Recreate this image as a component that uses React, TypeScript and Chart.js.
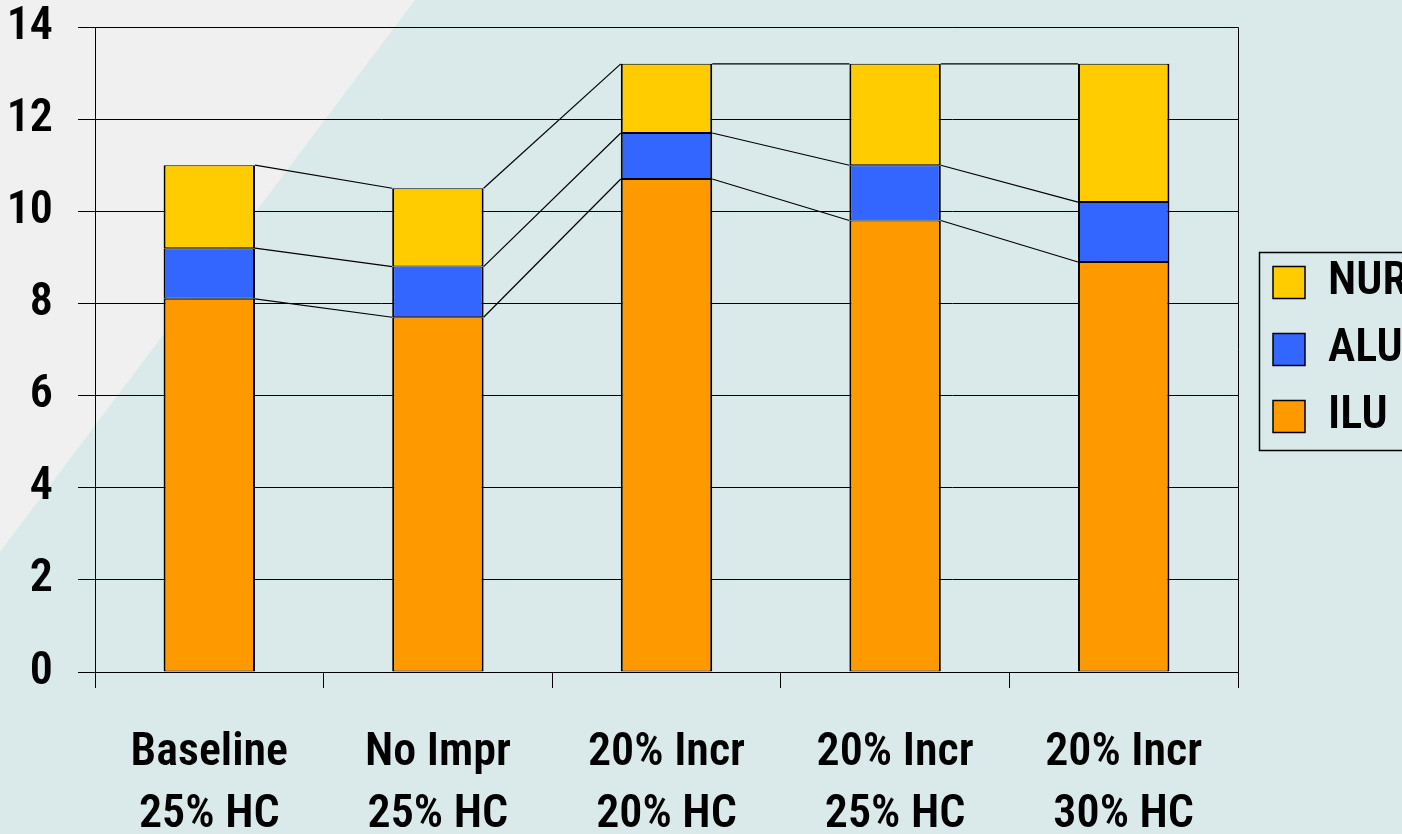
import React, { useEffect, useRef } from "react";
import { Chart, registerables } from "chart.js";

Chart.register(...registerables);

const categories: string[][] = [
  ["Baseline", "25% HC"],
  ["No Impr", "25% HC"],
  ["20% Incr", "20% HC"],
  ["20% Incr", "25% HC"],
  ["20% Incr", "30% HC"],
];
const iluValues = [8.1, 7.7, 10.7, 9.8, 8.9];
const aluValues = [1.1, 1.1, 1.0, 1.2, 1.3];
const nurValues = [1.8, 1.7, 1.5, 2.2, 3.0];
const seriesNames = ["ILU", "ALU", "NUR"];
const seriesColors = ["#ff9900", "#3366ff", "#ffcc00"];
const yTicks = { min: 0, max: 14, step: 2 };

// Candidate condensed fonts; the one closest to Arial Narrow Bold proportions is used.
const fontCandidates = [
  { stretch: "", family: '"Liberation Sans Narrow"' },
  { stretch: "condensed", family: '"Noto Sans"' },
  { stretch: "semi-condensed", family: '"Noto Sans"' },
  { stretch: "condensed", family: '"Open Sans"' },
  { stretch: "semi-condensed", family: '"Open Sans"' },
  { stretch: "condensed", family: "Roboto" },
  { stretch: "condensed", family: "Inter" },
  { stretch: "", family: '"DejaVu Sans Condensed"' },
];

function pickFont() {
  const c = document.createElement("canvas");
  const ctx = c.getContext("2d")!;
  const target = 162 / 33; // width of "Baseline" / cap height of "B" in the reference
  let best = { weight: "bold", family: '"DejaVu Sans Condensed"', size: 42, err: 1e9 };
  for (const cand of fontCandidates) {
    const weight = cand.stretch ? `600 ${cand.stretch}` : "bold";
    ctx.font = "10px serif";
    ctx.font = `${weight} 46px ${cand.family}`;
    if (ctx.font === "10px serif") continue;
    const w = ctx.measureText("Baseline").width;
    const m = ctx.measureText("B");
    const asc = m.actualBoundingBoxAscent || 33;
    const err = Math.abs(w / asc - target);
    if (err < best.err - 0.02) {
      best = { weight, family: cand.family, size: Math.round((46 * 33) / asc), err };
    }
  }
  return best;
}

const backgroundPlugin = {
  id: "bgPlugin",
  beforeDraw(chart: any) {
    const { ctx, width, height } = chart;
    ctx.save();
    ctx.fillStyle = "#dae9e9";
    ctx.fillRect(0, 0, width, height);
    ctx.fillStyle = "#f0f0f0";
    ctx.beginPath();
    ctx.moveTo(0, 0);
    ctx.lineTo(415, 0);
    ctx.lineTo(0, 552);
    ctx.closePath();
    ctx.fill();
    ctx.restore();
  },
};

const framePlugin = {
  id: "framePlugin",
  beforeDatasetsDraw(chart: any) {
    const { ctx } = chart;
    ctx.save();
    ctx.strokeStyle = "#000";
    ctx.lineWidth = 1.2;
    chart.data.datasets.forEach((_: any, d: number) => {
      const meta = chart.getDatasetMeta(d);
      for (let i = 0; i < meta.data.length - 1; i++) {
        const a = meta.data[i];
        const b = meta.data[i + 1];
        ctx.beginPath();
        ctx.moveTo(a.x + a.width / 2, a.y);
        ctx.lineTo(b.x - b.width / 2, b.y);
        ctx.stroke();
      }
    });
    ctx.restore();
  },
  afterDraw(chart: any) {
    const { ctx, chartArea } = chart;
    ctx.save();
    ctx.strokeStyle = "#000";
    ctx.lineWidth = 1;
    ctx.beginPath();
    ctx.moveTo(chartArea.left, chartArea.top + 0.5);
    ctx.lineTo(chartArea.right + 0.5, chartArea.top + 0.5);
    ctx.lineTo(chartArea.right + 0.5, chartArea.bottom);
    ctx.stroke();
    const lg = chart.legend;
    if (lg && lg.legendHitBoxes && lg.legendHitBoxes.length) {
      const hb = lg.legendHitBoxes;
      const first = hb[0];
      const last = hb[hb.length - 1];
      const left = lg.left + 7.5;
      const top = Math.round(first.top - 8) + 0.5;
      const bottom = Math.round(last.top + last.height + 10) + 0.5;
      ctx.lineWidth = 1.5;
      ctx.beginPath();
      ctx.moveTo(chart.width + 5, top);
      ctx.lineTo(left, top);
      ctx.lineTo(left, bottom);
      ctx.lineTo(chart.width + 5, bottom);
      ctx.stroke();
    }
    ctx.restore();
  },
};

export default function App() {
  const ref = useRef<HTMLCanvasElement>(null);
  useEffect(() => {
    if (!ref.current) return;
    Chart.defaults.color = "#000";
    const f = pickFont();
    const font = { family: f.family, size: f.size, weight: f.weight as any };
    const chart = new Chart(ref.current, {
      type: "bar",
      data: {
        labels: categories,
        datasets: [iluValues, aluValues, nurValues].map((vals, i) => ({
          label: seriesNames[i],
          data: vals,
          backgroundColor: seriesColors[i],
          borderColor: "#000",
          borderWidth: { left: 2, right: 2, top: 1, bottom: 1 },
          borderSkipped: false,
          barPercentage: 0.4,
          categoryPercentage: 1,
          yAxisID: "y",
        })),
      },
      options: {
        responsive: false,
        animation: false,
        maintainAspectRatio: false,
        layout: { padding: { top: 27, left: 0, right: 0, bottom: 0 } },
        plugins: {
          tooltip: { enabled: false },
          legend: {
            position: "right",
            fullSize: false,
            reverse: true,
            maxWidth: 150,
            labels: {
              boxWidth: 32,
              boxHeight: 32,
              padding: 21,
              color: "#000",
              font: { ...font },
            },
          },
        },
        scales: {
          x: {
            stacked: true,
            offset: true,
            grid: {
              display: true,
              offset: true,
              drawOnChartArea: false,
              drawTicks: true,
              tickLength: 16,
              color: "#000",
              lineWidth: 1,
            },
            border: { display: true, color: "#000", width: 1 },
            ticks: {
              maxRotation: 0,
              minRotation: 0,
              autoSkip: false,
              padding: 34,
              color: "#000",
              font: { ...font, lineHeight: 62 / f.size },
            },
            afterFit: (s: any) => {
              s.height = 162;
              s.paddingLeft = 0;
              s.paddingRight = 0;
            },
          },
          y: {
            stacked: true,
            min: yTicks.min,
            max: yTicks.max,
            grid: {
              color: "#000",
              lineWidth: 1,
              drawTicks: true,
              tickLength: 17,
            },
            border: { display: true, color: "#000", width: 1 },
            ticks: {
              stepSize: yTicks.step,
              padding: 25,
              color: "#000",
              font: { ...font },
            },
            afterFit: (s: any) => {
              s.width = 95;
              s.paddingTop = 0;
              s.paddingBottom = 0;
            },
          },
          yR: {
            type: "linear",
            position: "right",
            display: true,
            grid: { display: false },
            border: { display: false },
            ticks: { display: false },
            afterFit: (s: any) => {
              s.width = 14;
              s.paddingTop = 0;
              s.paddingBottom = 0;
            },
          },
        },
      },
      plugins: [backgroundPlugin, framePlugin],
    } as any);
    return () => chart.destroy();
  }, []);
  return (
    <div style={{ position: "fixed", left: 0, top: 0, width: 1402, height: 834, overflow: "hidden" }}>
      <canvas ref={ref} width={1402} height={834} style={{ display: "block" }} />
    </div>
  );
}
